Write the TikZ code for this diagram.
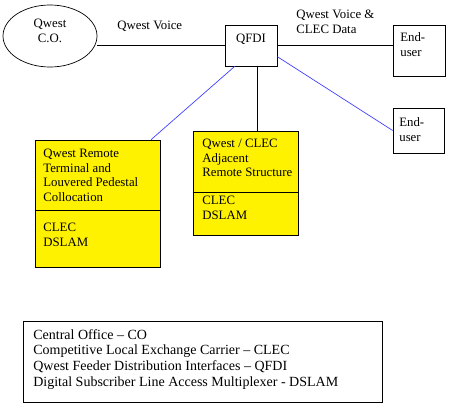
\documentclass[tikz,border=0pt]{standalone}
\usepackage{fontspec}
\setmainfont{Liberation Serif}
\usetikzlibrary{shapes.geometric,calc}
\definecolor{wire}{RGB}{64,64,255}

\begin{document}
\begin{tikzpicture}[x=1pt, y=-1pt, line width=0.7pt,
    font=\fontsize{12.8}{14.7}\selectfont,
    box/.style={rectangle, draw, inner sep=0pt},
    site/.style={box, fill=yellow},
    txt/.style={inner sep=0pt, anchor=north west, align=left},
    link/.style={draw=wire}]
    \useasboundingbox (0,0) rectangle (450,415);
    % Nodes
    \node[ellipse, draw, minimum width=94, minimum height=62, inner sep=0pt] (co) at (50,36) {};
    \node[align=center, inner sep=0pt] (coname) at (50,31) {Qwest\\[1pt]C.O.};
    \node[box, minimum width=52, minimum height=41] (qfdi) at (251,45.5) {};
    \node[inner sep=0pt] (qfdiname) at (251,39) {QFDI};
    \node[box, minimum width=52, minimum height=51] (eua) at (419,50.5) {};
    \node[txt] (euaname) at (400,32.5) {End-\\user};
    \node[box, minimum width=51, minimum height=45] (eub) at (418.5,130.5) {};
    \node[txt] (eubname) at (399,117.5) {End-\\user};
    \node[site, minimum width=125, minimum height=127] (rt) at (97.5,203.5) {};
    \node[site, minimum width=105, minimum height=104] (ar) at (245.5,183) {};
    \node[txt] (rttop) at (43,148.5) {Qwest Remote\\Terminal and\\Louvered Pedestal\\Collocation};
    \node[txt] (rtbot) at (43,222.5) {CLEC\\DSLAM};
    \node[txt] (artop) at (202,138.5) {Qwest / CLEC\\Adjacent\\Remote Structure};
    \node[txt] (arbot) at (202,196) {CLEC\\DSLAM};
    \node[txt] (voice) at (117,21) {Qwest Voice};
    \node[txt] (data) at (296,10) {Qwest Voice \&\\CLEC Data};
    \node[box, minimum width=359, minimum height=81] (key) at (202.5,361.5) {};
    \node[txt, font=\fontsize{14}{15.6}\selectfont] (keytext) at (33,329)
        {Central Office -- CO\\
         Competitive Local Exchange Carrier -- CLEC\\
         Qwest Feeder Distribution Interfaces -- QFDI\\
         Digital Subscriber Line Access Multiplexer - DSLAM};
    % Dividers
    \draw (rt.west |- 0,210) -- (rt.east |- 0,210);
    \draw (ar.west |- 0,192) -- (ar.east |- 0,192);
    % Connectors
    \draw (qfdi.west) -- (qfdi.west -| co.east);
    \draw (qfdi.east) -- (qfdi.east -| eua.west);
    \draw ([xshift=6pt]qfdi.south) -- ([xshift=6pt]qfdi.south |- ar.north);
    \draw[link] (qfdi.-128) -- (rt.50);
    \draw[link] (qfdi.-23) -- (eub.west);
\end{tikzpicture}
\end{document}
